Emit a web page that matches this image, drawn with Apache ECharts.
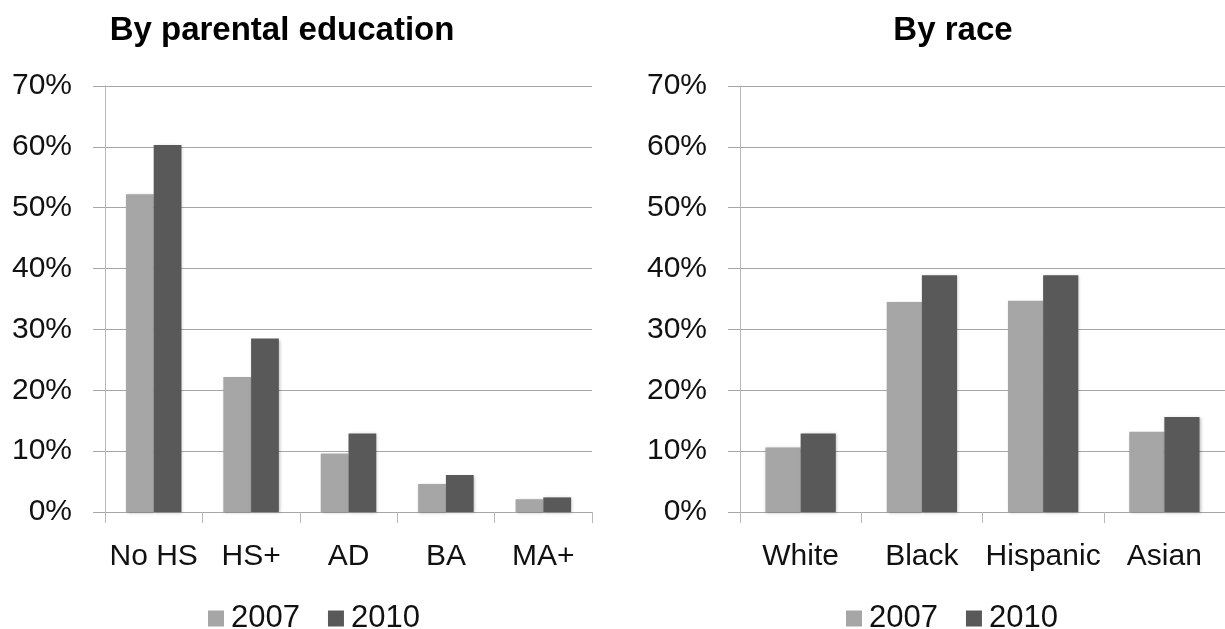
<!DOCTYPE html>
<html>
<head>
<meta charset="utf-8">
<script src="https://cdn.jsdelivr.net/npm/echarts@6/dist/echarts.min.js"></script>
<style>
  html, body { margin: 0; padding: 0; background: #fff; }
  #chart { width: 1225px; height: 629px; }
</style>
</head>
<body>
<div id="chart"></div>
<script>
// data (percent)
var years = ['2007', '2010'];
var eduCats = ['No HS', 'HS+', 'AD', 'BA', 'MA+'];
var edu2007 = [52.2, 22.2, 9.6, 4.6, 2.1];
var edu2010 = [60.3, 28.5, 12.9, 6.1, 2.4];
var raceCats = ['White', 'Black', 'Hispanic', 'Asian'];
var race2007 = [10.6, 34.5, 34.7, 13.2];
var race2010 = [12.9, 38.9, 38.9, 15.6];
var yTicks = [0, 10, 20, 30, 40, 50, 60, 70];

var FONT = '"Liberation Sans", Arial, sans-serif';
var GRID_C = '#a6a6a6';
var AXIS_C = '#b8b8b8';
var C2007 = '#a6a6a6';
var C2010 = '#595959';

function yAxis(idx) {
    return {
        type: 'value',
        gridIndex: idx,
        min: yTicks[0],
        max: yTicks[yTicks.length - 1],
        interval: 10,
        axisLine: { show: true, lineStyle: { color: AXIS_C, width: 1 } },
        axisTick: { show: true, length: 12, lineStyle: { color: GRID_C } },
        splitLine: { show: true, lineStyle: { color: GRID_C, width: 1 } },
        axisLabel: {
            formatter: '{value}%',
            color: '#111',
            fontFamily: FONT,
            fontSize: 30,
            margin: 33
        }
    };
}

function xAxis(idx, cats) {
    return {
        type: 'category',
        gridIndex: idx,
        data: cats,
        axisLine: { show: true, lineStyle: { color: GRID_C, width: 1 } },
        axisTick: { show: true, length: 11, lineStyle: { color: AXIS_C } },
        axisLabel: {
            color: '#111',
            fontFamily: FONT,
            fontSize: 30,
            margin: 30,
            interval: 0
        }
    };
}

function bar(name, idx, data, color, gap) {
    return {
        name: name,
        type: 'bar',
        xAxisIndex: idx,
        yAxisIndex: idx,
        data: data,
        barGap: '0%',
        barCategoryGap: gap,
        itemStyle: {
            color: color,
            shadowColor: 'rgba(0,0,0,0.25)',
            shadowBlur: 3,
            shadowOffsetX: 1,
            shadowOffsetY: 1
        },
        silent: true
    };
}

var legendText = { color: '#111', fontFamily: FONT, fontSize: 31, padding: [0, 0, 0, 2] };

var option = {
    animation: false,
    backgroundColor: '#fff',
    title: [
        {
            text: 'By parental education',
            left: 277, top: 9, textAlign: 'center',
            textStyle: { fontFamily: FONT, fontWeight: 'bold', fontSize: 33, color: '#000' }
        },
        {
            text: 'By race',
            left: 948, top: 9, textAlign: 'center',
            textStyle: { fontFamily: FONT, fontWeight: 'bold', fontSize: 33, color: '#000' }
        }
    ],
    legend: [
        {
            data: years, left: 203, top: 598,
            icon: 'rect', itemWidth: 16, itemHeight: 16, itemGap: 28,
            textStyle: legendText, selectedMode: false
        },
        {
            data: years.map(function (y) { return { name: y + ' ' }; }),
            left: 841, top: 598,
            icon: 'rect', itemWidth: 16, itemHeight: 16, itemGap: 28,
            formatter: function (n) { return n.trim(); },
            textStyle: legendText, selectedMode: false
        }
    ],
    grid: [
        { left: 105, right: 633, top: 86, bottom: 117 },
        { left: 740, right: -1, top: 86, bottom: 117 }
    ],
    xAxis: [xAxis(0, eduCats), xAxis(1, raceCats)],
    yAxis: [yAxis(0), yAxis(1)],
    series: [
        bar('2007', 0, edu2007, C2007, '43%'),
        bar('2010', 0, edu2010, C2010, '43%'),
        bar('2007 ', 1, race2007, C2007, '42%'),
        bar('2010 ', 1, race2010, C2010, '42%')
    ]
};

var myChart = echarts.init(document.getElementById('chart'));
myChart.setOption(option);
</script>
</body>
</html>
